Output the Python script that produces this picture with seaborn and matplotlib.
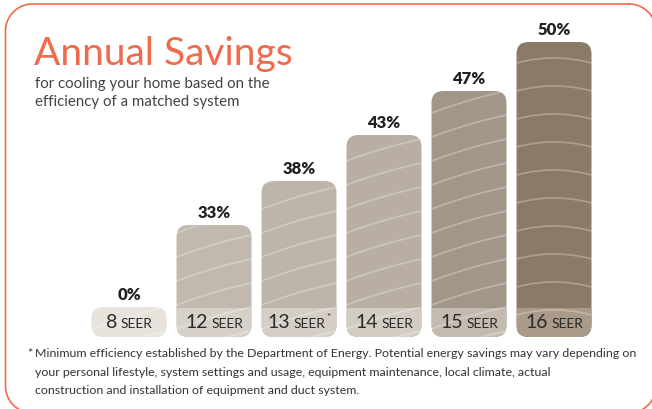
import numpy as np
import pandas as pd
import matplotlib
matplotlib.use("Agg")
import matplotlib.pyplot as plt
import seaborn as sns
from matplotlib.patches import FancyBboxPatch, Rectangle
from matplotlib.transforms import offset_copy

# data
seer = ["8", "12", "13", "14", "15", "16"]
savings = [0, 33, 38, 43, 47, 50]
# drawn bar heights (px above the baseline) -- the graphic is not to scale
bar_height = [30, 112, 156, 202, 246, 295]
bar_colors = ["#e7e2dc", "#c1b9ae", "#bdb5a9", "#b8aea2", "#a29688", "#8b7a67"]
band_colors = ["#e7e2dc", "#d6d0c8", "#d4cec6", "#d3ccc3", "#c3bab0", "#a99a89"]

title = "Annual Savings"
subtitle = ["for cooling your home based on the", "efficiency of a matched system"]
footnote = ["Minimum efficiency established by the Department of Energy. Potential energy savings may vary depending on",
            "your personal lifestyle, system settings and usage, equipment maintenance, local climate, actual",
            "construction and installation of equipment and duct system."]

ORANGE = "#f06a4c"
W, H = 652, 409

sns.set_theme(style="white")
plt.rcParams["font.family"] = ["Lato", "DejaVu Sans"]

fig = plt.figure(figsize=(W / 100, H / 100), dpi=100)
fig.patch.set_facecolor("white")

# background axes in pixel units, for the rounded frame
bg = fig.add_axes([0, 0, 1, 1], zorder=0)
bg.set_xlim(0, W)
bg.set_ylim(H, 0)
bg.axis("off")


def rounded_outline(x0, y0, x1, y1, rad, n=30):
    # corners as explicit polyline (beziers get mangled when clipped)
    xs, ys = [], []
    for cx, cy, a0 in [(x1 - rad, y0 + rad, -90), (x1 - rad, y1 - rad, 0),
                       (x0 + rad, y1 - rad, 90), (x0 + rad, y0 + rad, 180)]:
        a = np.radians(np.linspace(a0, a0 + 90, n))
        xs.extend(cx + rad * np.cos(a))
        ys.extend(cy + rad * np.sin(a))
    xs.append(xs[0])
    ys.append(ys[0])
    return xs, ys


fx_, fy_ = rounded_outline(5.5, 4, 656, 413, 27)
bg.plot(fx_, fy_, color=ORANGE, lw=1.2)

# chart axes placed so one category = 85 px and one y unit = 1 px
ax = fig.add_axes([86.5 / W, 72 / H, 510 / W, 300 / H], zorder=1)
ax.patch.set_alpha(0)
df = pd.DataFrame({"seer": seer, "h": bar_height})
sns.barplot(data=df, x="seer", y="h", hue="seer", palette=bar_colors,
            width=75 / 85, saturation=1, legend=False, ax=ax)
ax.set_xlim(-0.5, 5.5)
ax.set_ylim(0, 300)
ax.axis("off")

aspect = 85.0          # px per x unit / px per y unit
r = 12 / 85            # corner radius in x units
band_h = 29

bars = list(ax.patches)
for i, (p, band) in enumerate(zip(bars, band_colors)):
    x, y, w, h = p.get_x(), p.get_y(), p.get_width(), p.get_height()
    p.set_visible(False)
    rb = FancyBboxPatch((x, y), w, h, boxstyle=f"round,pad=0,rounding_size={r}",
                        mutation_aspect=aspect, fc=p.get_facecolor(), ec="none", zorder=2)
    ax.add_patch(rb)
    br = Rectangle((x, 0), w, band_h, fc=band, ec="none", zorder=3)
    ax.add_patch(br)
    br.set_clip_path(rb)

    # decorative light streaks
    t = np.linspace(0, 1, 40)
    xs = x + t * w
    if i == 5:
        for y0 in np.arange(22, h + 10, 28):
            ys = y0 + 5 * (1 - (2 * t - 1) ** 2)
            ln, = ax.plot(xs, ys, color="white", alpha=0.28, lw=1.3, zorder=4)
            ln.set_clip_path(rb)
    else:
        for y0 in np.arange(-40, h + 10, 24):
            ys = y0 + 28 * t - 6 * t ** 2
            ln, = ax.plot(xs, ys, color="white", alpha=0.28, lw=1.3, zorder=4)
            ln.set_clip_path(rb)

# percentage labels on top
for c, v in zip(ax.containers, savings):
    ax.bar_label(c, labels=[f"{v}%"], padding=3, fontsize=12, fontweight="heavy",
                 color="#222222", zorder=5)

# "NN SEER" labels inside the band, number larger than SEER
fig.canvas.draw()
rend = fig.canvas.get_renderer()
for i, s in enumerate(seer):
    tn = ax.text(i, 9, s, fontsize=14, color="#2b2b2b", ha="left", va="baseline", zorder=6)
    ts = ax.text(i, 9, "SEER", fontsize=10, color="#2b2b2b", ha="left", va="baseline", zorder=6)
    parts = [tn, ts]
    if s == "13":
        ta = ax.text(i, 17, "*", fontsize=7, color="#2b2b2b", ha="left", va="baseline", zorder=6)
        parts.append(ta)
    widths = [t.get_window_extent(rend).width for t in parts]
    gaps = [3.5, 0.5]
    total = sum(widths) + sum(gaps[:len(parts) - 1])
    off = -total / 2
    for k, t in enumerate(parts):
        t.set_transform(offset_copy(ax.transData, fig=fig, x=off, y=0, units="dots"))
        off += widths[k] + (gaps[k] if k < len(gaps) else 0)


def fx(px):
    return px / W


def fy(py):
    return 1 - py / H


fig.text(fx(34), fy(65), title, fontsize=28, color=ORANGE, fontweight="normal",
         ha="left", va="baseline")
for k, line in enumerate(subtitle):
    fig.text(fx(35), fy(88 + 18 * k), line, fontsize=10.8, color="#444444",
             ha="left", va="baseline")

fig.text(fx(27), fy(357), "*", fontsize=8.95, color="#333333", ha="left", va="baseline")
for k, line in enumerate(footnote):
    fig.text(fx(35), fy(357 + 18.5 * k), line, fontsize=8.95, color="#333333",
             ha="left", va="baseline")

fig.savefig("out.png", dpi=100)
